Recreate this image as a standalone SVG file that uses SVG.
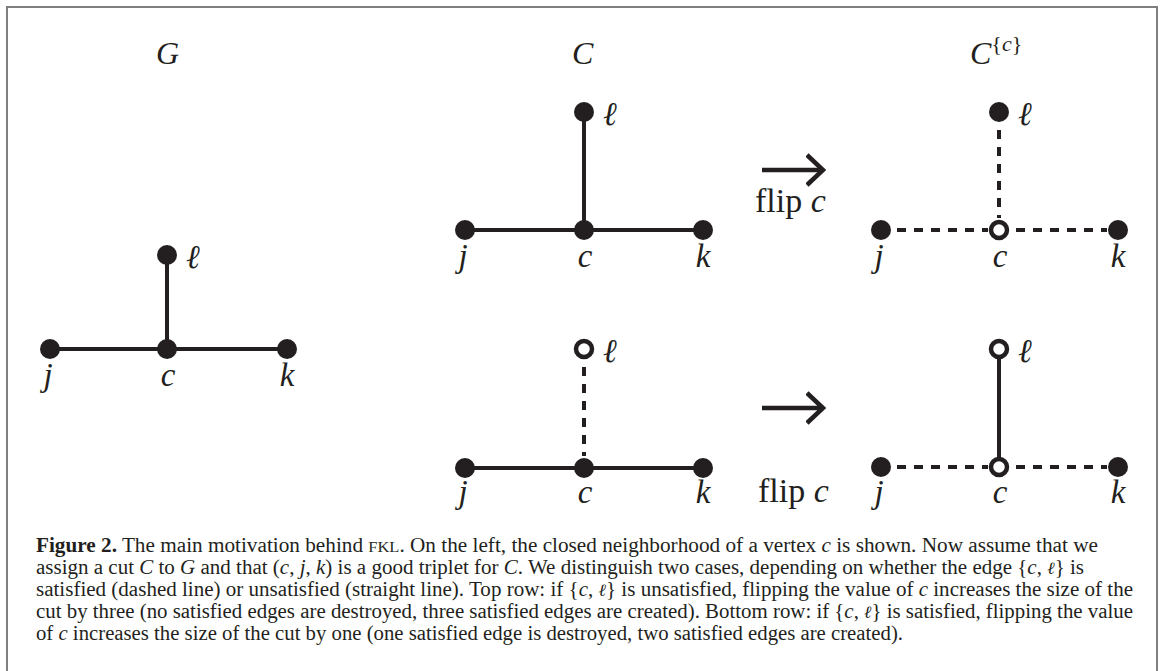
<svg xmlns="http://www.w3.org/2000/svg" width="1165" height="671" viewBox="0 0 1165 671">
<defs>
<style>
.frame{fill:none;stroke:#7f7f7f;stroke-width:2}
.dot{fill:#231f20}
.open{fill:#fff;stroke:#231f20;stroke-width:4.5}
.edge{stroke:#231f20;stroke-width:4;fill:none}
.dash{stroke:#231f20;stroke-width:4;fill:none;stroke-dasharray:9 8}
.math{font-family:"Liberation Serif","DejaVu Serif",serif;font-style:italic;font-size:33px;fill:#231f20}
.ell{font-family:"DejaVu Serif","Liberation Serif",serif;font-style:italic;font-size:33px;fill:#231f20}
.title{font-family:"Liberation Serif","DejaVu Serif",serif;font-style:italic;font-size:32px;fill:#231f20}
.rm{font-family:"Liberation Serif","DejaVu Serif",serif;font-size:34px;fill:#231f20}
.arrow{stroke:#231f20;stroke-width:4.5;fill:none;marker-end:url(#head)}
.cap{font-family:"Liberation Serif","DejaVu Serif",serif;font-size:20px;fill:#231f20}
.it{font-style:italic}
.bf{font-weight:bold}
.sc{font-size:15.5px}
.el{font-family:"DejaVu Serif",serif;font-style:italic;font-size:17px}
</style>
<marker id="head" markerUnits="userSpaceOnUse" viewBox="0 0 20 34" refX="17" refY="17" markerWidth="20" markerHeight="34" orient="auto">
<path d="M1,2 L17,17 L1,32" stroke="#231f20" stroke-width="4.5" fill="none"/>
</marker>
</defs>
<rect width="1165" height="671" fill="#fff"/>
<path class="frame" d="M7,671 V7 H1157 V671"/>

<!-- titles -->
<text class="title" x="156" y="64">G</text>
<text class="title" x="572" y="64">C</text>
<text class="title" x="970" y="64">C<tspan font-size="22px" font-style="normal" dy="-13">{</tspan><tspan font-size="22px">c</tspan><tspan font-size="22px" font-style="normal">}</tspan></text>

<!-- connectors -->
<g id="connectors">
<line class="edge" x1="167" y1="255" x2="167" y2="349"/>
<line class="edge" x1="50" y1="349" x2="287" y2="349"/>
<line class="edge" x1="584" y1="112" x2="584" y2="230"/>
<line class="edge" x1="465" y1="230" x2="703" y2="230"/>
<line class="dash" x1="999" y1="130" x2="999" y2="218"/>
<line class="dash" x1="897" y1="230" x2="988" y2="230"/>
<line class="dash" x1="1016" y1="230" x2="1107" y2="230"/>
<line class="dash" x1="584" y1="367" x2="584" y2="456"/>
<line class="edge" x1="465" y1="468" x2="703" y2="468"/>
<line class="edge" x1="999" y1="349" x2="999" y2="467"/>
<line class="dash" x1="897" y1="467" x2="988" y2="467"/>
<line class="dash" x1="1016" y1="467" x2="1107" y2="467"/>
</g>

<g id="transitions">
<line class="arrow" x1="762" y1="170" x2="823" y2="170"/>
<text class="rm" x="755" y="212">flip <tspan class="it">c</tspan></text>
<line class="arrow" x1="762" y1="408" x2="823" y2="408"/>
<text class="rm" x="758" y="502">flip <tspan class="it">c</tspan></text>
</g>

<!-- graph G -->
<g id="G-l"><circle class="dot" cx="167" cy="255" r="10"/><text class="ell" x="186" y="268">ℓ</text></g>
<g id="G-j"><circle class="dot" cx="50" cy="349" r="10"/><text class="math" x="48" y="386" text-anchor="middle">j</text></g>
<g id="G-c"><circle class="dot" cx="167" cy="349" r="10"/><text class="math" x="168" y="386" text-anchor="middle">c</text></g>
<g id="G-k"><circle class="dot" cx="287" cy="349" r="10"/><text class="math" x="287" y="386" text-anchor="middle">k</text></g>

<!-- C top -->
<g id="C1-l"><circle class="dot" cx="584" cy="112" r="10"/><text class="ell" x="603" y="125">ℓ</text></g>
<g id="C1-j"><circle class="dot" cx="465" cy="230" r="10"/><text class="math" x="463" y="267" text-anchor="middle">j</text></g>
<g id="C1-c"><circle class="dot" cx="584" cy="230" r="10"/><text class="math" x="585" y="267" text-anchor="middle">c</text></g>
<g id="C1-k"><circle class="dot" cx="703" cy="230" r="10"/><text class="math" x="703" y="267" text-anchor="middle">k</text></g>

<!-- C^{c} top -->
<g id="Cc1-l"><circle class="dot" cx="999" cy="112" r="10"/><text class="ell" x="1018" y="125">ℓ</text></g>
<g id="Cc1-j"><circle class="dot" cx="881" cy="230" r="10"/><text class="math" x="879" y="267" text-anchor="middle">j</text></g>
<g id="Cc1-c"><circle class="open" cx="999" cy="230" r="8"/><text class="math" x="1000" y="267" text-anchor="middle">c</text></g>
<g id="Cc1-k"><circle class="dot" cx="1118" cy="230" r="10"/><text class="math" x="1118" y="267" text-anchor="middle">k</text></g>

<!-- C bottom -->
<g id="C2-l"><circle class="open" cx="584" cy="349" r="8"/><text class="ell" x="603" y="362">ℓ</text></g>
<g id="C2-j"><circle class="dot" cx="465" cy="468" r="10"/><text class="math" x="463" y="503" text-anchor="middle">j</text></g>
<g id="C2-c"><circle class="dot" cx="584" cy="468" r="10"/><text class="math" x="585" y="503" text-anchor="middle">c</text></g>
<g id="C2-k"><circle class="dot" cx="703" cy="468" r="10"/><text class="math" x="703" y="503" text-anchor="middle">k</text></g>

<!-- C^{c} bottom -->
<g id="Cc2-l"><circle class="open" cx="999" cy="349" r="8"/><text class="ell" x="1018" y="362">ℓ</text></g>
<g id="Cc2-j"><circle class="dot" cx="881" cy="467" r="10"/><text class="math" x="879" y="503" text-anchor="middle">j</text></g>
<g id="Cc2-c"><circle class="open" cx="999" cy="467" r="8"/><text class="math" x="1000" y="503" text-anchor="middle">c</text></g>
<g id="Cc2-k"><circle class="dot" cx="1118" cy="467" r="10"/><text class="math" x="1118" y="503" text-anchor="middle">k</text></g>

<!-- caption -->
<g id="caption" class="cap">
<text x="36" y="552" textLength="1062" lengthAdjust="spacingAndGlyphs"><tspan class="bf">Figure 2.</tspan>  The main motivation behind <tspan class="sc">FKL</tspan>. On the left, the closed neighborhood of a vertex <tspan class="it">c</tspan> is shown. Now assume that we</text>
<text x="36" y="574" textLength="1048" lengthAdjust="spacingAndGlyphs">assign a cut <tspan class="it">C</tspan> to <tspan class="it">G</tspan> and that (<tspan class="it">c</tspan>, <tspan class="it">j</tspan>, <tspan class="it">k</tspan>) is a good triplet for <tspan class="it">C</tspan>. We distinguish two cases, depending on whether the edge {<tspan class="it">c</tspan>, <tspan class="el">ℓ</tspan>} is</text>
<text x="36" y="596" textLength="1097" lengthAdjust="spacingAndGlyphs">satisfied (dashed line) or unsatisfied (straight line). Top row: if {<tspan class="it">c</tspan>, <tspan class="el">ℓ</tspan>} is unsatisfied, flipping the value of <tspan class="it">c</tspan> increases the size of the</text>
<text x="36" y="618" textLength="1097" lengthAdjust="spacingAndGlyphs">cut by three (no satisfied edges are destroyed, three satisfied edges are created). Bottom row: if {<tspan class="it">c</tspan>, <tspan class="el">ℓ</tspan>} is satisfied, flipping the value</text>
<text x="36" y="640" textLength="867" lengthAdjust="spacingAndGlyphs">of <tspan class="it">c</tspan> increases the size of the cut by one (one satisfied edge is destroyed, two satisfied edges are created).</text>
</g>
</svg>
